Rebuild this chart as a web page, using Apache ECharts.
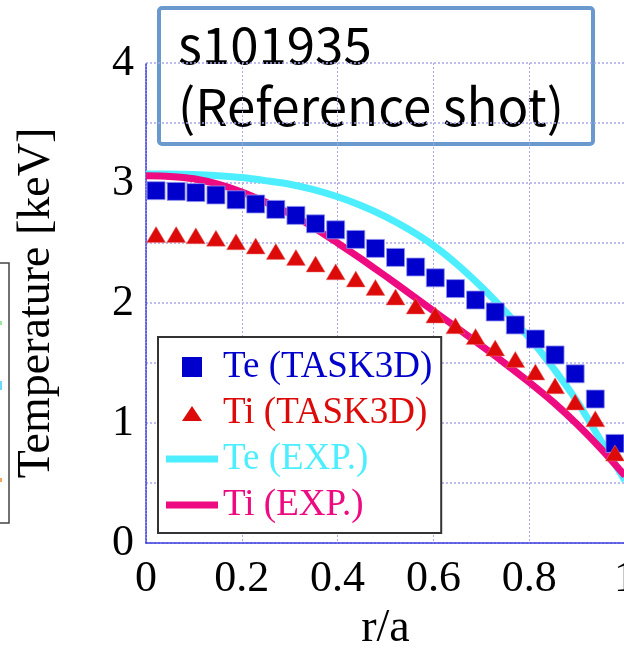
<!DOCTYPE html>
<html>
<head>
<meta charset="utf-8">
<script src="https://cdn.jsdelivr.net/npm/echarts@6/dist/echarts.min.js"></script>
<style>
html,body{margin:0;padding:0;background:#fff;}
#chart{width:624px;height:650px;}
</style>
</head>
<body>
<div id="chart"></div>
<script>
// ---- data ----
var taskR = [0.021, 0.063, 0.104, 0.146, 0.188, 0.229, 0.271, 0.313, 0.354, 0.396, 0.438, 0.479,
             0.521, 0.563, 0.604, 0.646, 0.688, 0.729, 0.771, 0.813, 0.854, 0.896, 0.938, 0.979];
var teTask = [2.936, 2.93, 2.92, 2.90, 2.86, 2.825, 2.78, 2.73, 2.66, 2.61, 2.53, 2.455,
              2.38, 2.30, 2.21, 2.12, 2.025, 1.925, 1.817, 1.70, 1.567, 1.41, 1.20, 0.83];
var tiTask = [2.57, 2.57, 2.56, 2.54, 2.51, 2.475, 2.43, 2.38, 2.325, 2.26, 2.20, 2.13,
              2.05, 1.975, 1.90, 1.81, 1.72, 1.625, 1.53, 1.425, 1.31, 1.175, 1.035, 0.75];
var expR = [0, 0.05, 0.1, 0.15, 0.2, 0.25, 0.3, 0.35, 0.4, 0.45, 0.5, 0.55, 0.6, 0.65, 0.7, 0.75, 0.8, 0.85, 0.9, 0.95, 1.0];
var teExp = [3.075, 3.075, 3.07, 3.06, 3.045, 3.02, 2.99, 2.945, 2.885, 2.81, 2.72, 2.61, 2.48, 2.32, 2.135, 1.93, 1.71, 1.46, 1.18, 0.85, 0.52];
var tiExp = [3.06, 3.055, 3.035, 2.99, 2.925, 2.84, 2.745, 2.63, 2.50, 2.365, 2.225, 2.08, 1.935, 1.79, 1.645, 1.495, 1.34, 1.175, 0.99, 0.785, 0.56];
var seriesNames = ['Te (TASK3D)', 'Ti (TASK3D)', 'Te (EXP.)', 'Ti (EXP.)'];
var xTitle = 'r/a';
var yTitle = 'Temperature [keV]';
var shotLabel = 's101935\n(Reference shot)';

// ---- styles ----
var cBlue = '#0000CC', cRed = '#DD0A0A', cCyan = '#4DEEFF', cMag = '#EE0A80';
var serif = '"Liberation Serif", "Times New Roman", serif';

function pairs(xs, ys) { return xs.map(function (x, i) { return [x, ys[i]]; }); }

var chart = echarts.init(document.getElementById('chart'), null, {renderer: 'canvas'});
var gridCol = '#a8a8e6';
var option = {
  backgroundColor: '#fff',
  animation: false,
  grid: {left: 146, top: 63, width: 479, height: 480, containLabel: false, outerBoundsMode: 'none'},
  xAxis: {
    type: 'value', min: 0, max: 1, interval: 0.2,
    name: xTitle, nameLocation: 'middle', nameGap: 60,
    nameTextStyle: {fontFamily: serif, fontSize: 46, color: '#000'},
    axisLine: {show: true, lineStyle: {color: '#3a3ae0', type: [2, 1], width: 1.5}},
    axisTick: {show: false},
    axisLabel: {fontFamily: serif, fontSize: 44, color: '#000', margin: 14,
      formatter: function (v) { return String(Math.round(v * 10) / 10); }},
    splitLine: {show: true, lineStyle: {color: gridCol, type: [2, 2], width: 1}}
  },
  yAxis: {
    type: 'value', min: 0, max: 4, interval: 0.5,
    name: yTitle, nameLocation: 'middle', nameGap: 86,
    nameTextStyle: {fontFamily: serif, fontSize: 46, color: '#000'},
    axisLine: {show: true, lineStyle: {color: '#3a3ae0', type: [2, 1], width: 1.5}},
    axisTick: {show: false},
    axisLabel: {fontFamily: serif, fontSize: 44, color: '#000', margin: 12, padding: [0, 0, 16, 0],
      formatter: function (v) { return (Math.abs(v - Math.round(v)) < 1e-9) ? String(Math.round(v)) : ''; }},
    splitLine: {show: true, lineStyle: {color: gridCol, type: [2, 2], width: 1.5}}
  },
  legend: {
    orient: 'vertical', left: 158, top: 337,
    padding: [10, 9, 8, 8],
    backgroundColor: '#fff', borderColor: '#333', borderWidth: 2,
    itemWidth: 52, itemHeight: 20, itemGap: 6, itemTextGap: 3,
    selectedMode: false,
    itemStyle: {borderWidth: 0},
    textStyle: {fontFamily: serif, fontSize: 37, lineHeight: 40},
    data: [
      {name: seriesNames[0], icon: 'path://M0,0M52,20M16,0L36,0L36,20L16,20Z', textStyle: {color: cBlue}},
      {name: seriesNames[1], icon: 'path://M0,0M52,20M16,18L26,3L36,18Z', textStyle: {color: cRed}},
      {name: seriesNames[2], icon: 'path://M0,0M52,20M0,6.5L52,6.5L52,13.5L0,13.5Z', textStyle: {color: cCyan}},
      {name: seriesNames[3], icon: 'path://M0,0M52,20M0,6.5L52,6.5L52,13.5L0,13.5Z', textStyle: {color: cMag}}
    ]
  },
  series: [
    {name: seriesNames[2], type: 'line', data: pairs(expR, teExp), smooth: 0.3, showSymbol: false,
     itemStyle: {color: cCyan}, lineStyle: {color: cCyan, width: 7}, z: 2},
    {name: seriesNames[3], type: 'line', data: pairs(expR, tiExp), smooth: 0.3, showSymbol: false,
     itemStyle: {color: cMag}, lineStyle: {color: cMag, width: 7}, z: 2},
    {name: seriesNames[0], type: 'scatter', data: pairs(taskR, teTask), symbol: 'rect', symbolSize: 18,
     itemStyle: {color: cBlue, borderColor: 'rgba(150,150,240,0.8)', borderWidth: 1, opacity: 1}, z: 3},
    {name: seriesNames[1], type: 'scatter', data: pairs(taskR, tiTask), symbol: 'triangle', symbolSize: [19, 16],
     itemStyle: {color: cRed, borderColor: 'rgba(240,120,120,0.6)', borderWidth: 0.8, opacity: 1}, z: 4}
  ],
  graphic: [
    {type: 'group', z: 100, children: [
      {type: 'rect', shape: {x: 159, y: 8, width: 434, height: 136, r: 3},
       style: {fill: '#fff', stroke: '#6A9ACD', lineWidth: 4}},
      {type: 'text', style: {text: shotLabel, x: 178, y: 14, font: '51px "Noto Sans CJK JP", "Noto Sans", sans-serif',
        fill: '#000', lineHeight: 62, textVerticalAlign: 'top'}}
    ]},
    {type: 'rect', z: 100, shape: {x: -20, y: 263, width: 29, height: 260},
     style: {fill: 'none', stroke: '#444', lineWidth: 1.5}},
    {type: 'rect', z: 100, shape: {x: 0, y: 321, width: 2, height: 4}, style: {fill: '#9EE89E'}},
    {type: 'rect', z: 100, shape: {x: 0, y: 381, width: 2, height: 9}, style: {fill: '#6CD7FF'}},
    {type: 'rect', z: 100, shape: {x: 0, y: 478, width: 2, height: 4}, style: {fill: '#F5A45A'}}
  ]
};
chart.setOption(option);
</script>
</body>
</html>
